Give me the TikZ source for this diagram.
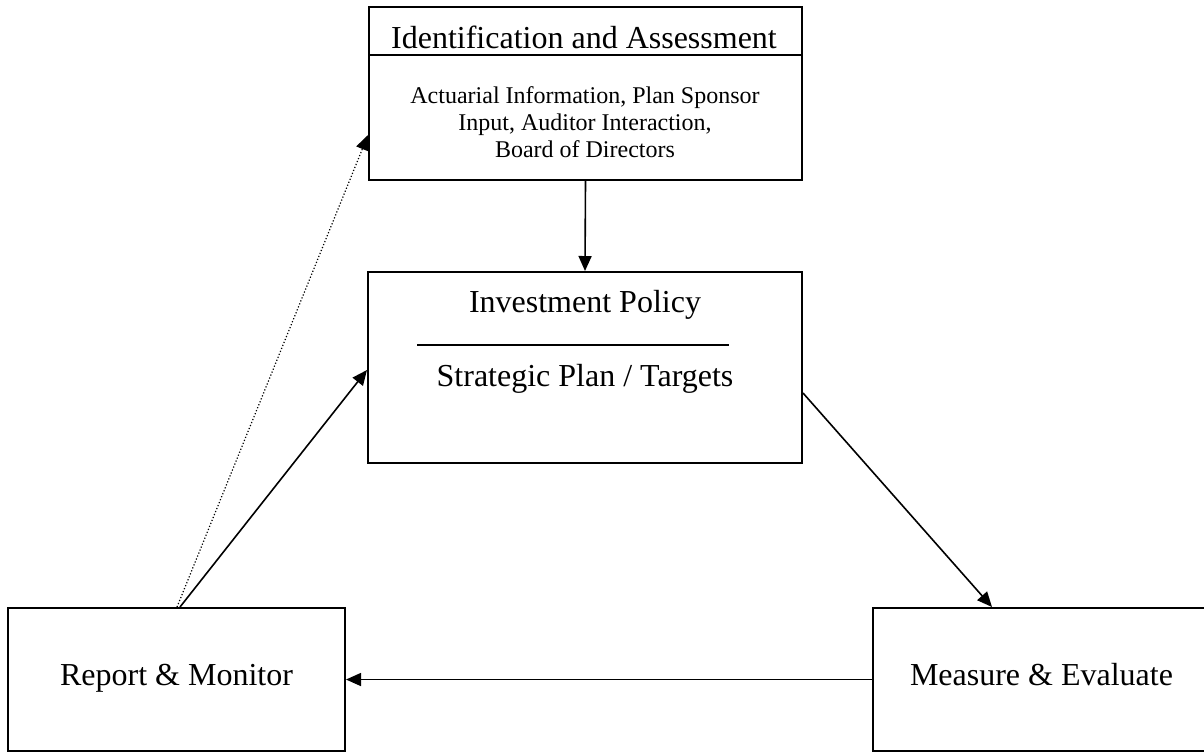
\documentclass[tikz,border=0pt]{standalone}
\usepackage{fontspec}
\setmainfont{Liberation Serif}
\usetikzlibrary{arrows.meta,positioning}

\begin{document}
\begin{tikzpicture}[x=0.5pt,y=-0.5pt,
    box/.style={draw, line width=1pt, inner sep=0pt, text height=10.5pt, text depth=4.5pt, font=\fontsize{16}{19}\selectfont},
    bigtext/.style={font=\fontsize{16}{19}\selectfont, anchor=base},
    smalltext/.style={font=\fontsize{12}{13.5}\selectfont, align=center},
    flow/.style={line width=0.8pt, -{Triangle[length=7.5pt,width=6.5pt]}},
    feedback/.style={line width=0.6pt, dash pattern=on 0.6pt off 1pt, -{Triangle[length=7.5pt,width=6.5pt]}}]
    \useasboundingbox (0,0) rectangle (1204,752);

    % boxes
    \node[box, minimum width=216.5pt, minimum height=86.5pt] (ident) at (585.5,93.5) {};
    \node[box, minimum width=217pt, minimum height=95.5pt] (policy) at (585,367.5) {};
    \node[box, minimum width=168.5pt, minimum height=71.5pt] (report) at (176.5,679.5) {Report \& Monitor};
    \node[box, minimum width=168.5pt, minimum height=71.5pt] (measure) at (1041.5,679.5) {Measure \& Evaluate};

    % header of the top box
    \coordinate (split) at (0,55);
    \draw[line width=1pt] (ident.west |- split) -- (ident.east |- split);
    \node[bigtext] (identtitle) at (584,48) {Identification and Assessment};
    \node[smalltext] (identnote) at (585,122) {Actuarial Information, Plan Sponsor\\Input, Auditor Interaction,\\Board of Directors};

    % policy box texts
    \node[bigtext] (policytitle) at (585,312) {Investment Policy};
    \draw[line width=0.7pt] (417,345) -- (729,345);
    \node[bigtext] (policynote) at (585,386) {Strategic Plan / Targets};

    % arrows
    \draw[flow] (ident.south) -- (policy.north);
    \draw[flow] ([yshift=-12.75pt]policy.east) -- ([xshift=-24.75pt]measure.north);
    \draw[flow] (measure.west) -- (report.east);
    \draw[flow] ([xshift=1.75pt]report.north) -- ([yshift=-1.25pt]policy.west);
    \draw[feedback] ([xshift=0.25pt]report.north) -- ([yshift=-20.75pt]ident.west);
\end{tikzpicture}
\end{document}
